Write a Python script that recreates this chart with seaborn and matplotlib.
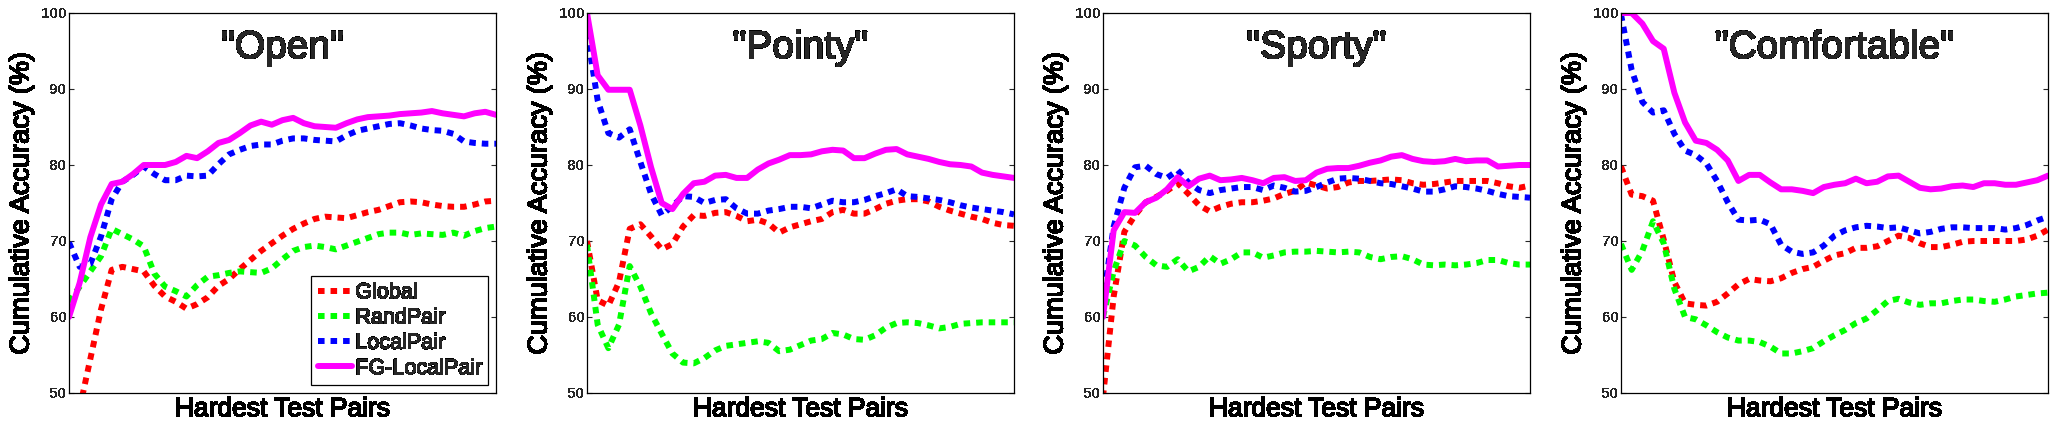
import matplotlib
matplotlib.use("Agg")
import matplotlib.pyplot as plt
import matplotlib.patheffects as pe
import pandas as pd
import seaborn as sns

# 가로축: 가장 어려운 테스트 쌍 (구간 인덱스)
pair_idx = list(range(41))

methods = ["Global", "RandPair", "LocalPair", "FG-LocalPair"]
titles = ['"Open"', '"Pointy"', '"Sporty"', '"Comfortable"']

open_global = [42, 48, 54.5, 61, 66.2, 66.6, 66.3, 66.0, 64.1, 62.7, 62.0, 61.1, 61.7, 62.6, 64.1, 65.0,
               66.3, 67.5, 68.7, 69.7, 70.7, 71.6, 72.3, 72.9, 73.2, 73.1, 73.0, 73.4, 73.8, 74.1, 74.6,
               75.1, 75.2, 75.1, 74.8, 74.6, 74.5, 74.5, 74.8, 75.2, 75.3]
open_rand = [62, 64, 66, 68, 71.6, 70.9, 70.2, 69.3, 65.7, 64.0, 63.4, 62.7, 64.2, 65.3, 65.5, 65.8,
             66.0, 65.9, 65.8, 66.4, 67.6, 68.7, 69.2, 69.4, 69.2, 68.9, 69.4, 69.9, 70.4, 70.9, 71.1,
             71.1, 70.8, 71.0, 70.9, 70.8, 71.1, 70.7, 71.3, 71.7, 71.9]
open_local = [69.8, 66.6, 67.0, 70.6, 75.5, 77.8, 78.7, 79.8, 78.8, 78.0, 78.0, 78.6, 78.5, 78.6, 80.1,
              81.4, 82.0, 82.5, 82.7, 82.7, 83.2, 83.5, 83.5, 83.3, 83.2, 83.1, 83.9, 84.5, 84.8, 85.1,
              85.4, 85.5, 85.2, 84.8, 84.6, 84.5, 84.1, 83.1, 82.9, 82.8, 82.8]
open_fg = [60, 64.5, 70.5, 74.8, 77.5, 77.8, 78.8, 80, 80, 80, 80.4, 81.2, 80.9, 81.8, 82.9, 83.3,
           84.2, 85.2, 85.7, 85.3, 85.9, 86.2, 85.5, 85.1, 85.0, 84.9, 85.5, 86.0, 86.3, 86.4, 86.5,
           86.7, 86.8, 86.9, 87.1, 86.8, 86.6, 86.4, 86.8, 87.0, 86.6]

pointy_global = [70, 62.2, 61.5, 64.6, 71.6, 72.2, 70.6, 68.9, 69.6, 71.9, 73.4, 73.3, 73.7, 73.8, 73.3,
                 72.6, 72.8, 72.3, 71.1, 71.8, 72.2, 72.6, 72.9, 73.8, 74.1, 73.6, 73.6, 74.2, 74.9,
                 75.3, 75.5, 75.5, 75.2, 74.5, 74.0, 73.6, 73.2, 72.9, 72.4, 72.1, 72.0]
pointy_rand = [69.5, 59.0, 55.9, 59.0, 66.7, 64.0, 60.5, 57.8, 55.2, 54.0, 53.9, 54.6, 55.6, 56.2, 56.4,
               56.6, 56.8, 56.6, 55.5, 55.7, 56.3, 56.9, 57.1, 57.9, 57.7, 57.1, 57.0, 57.6, 58.6, 59.2,
               59.3, 59.2, 58.9, 58.5, 58.7, 59.1, 59.2, 59.3, 59.3, 59.3, 59.3]
pointy_local = [97.4, 88.5, 84.2, 83.6, 84.7, 80.4, 76.2, 73.4, 74.6, 75.9, 75.8, 75.0, 75.4, 75.5, 74.3,
                73.6, 73.6, 74.0, 74.2, 74.5, 74.5, 74.3, 74.8, 75.3, 75.1, 75.1, 75.4, 75.9, 76.3, 76.8,
                75.9, 75.8, 75.6, 75.4, 75.1, 74.7, 74.4, 74.2, 74.0, 73.8, 73.5]
pointy_fg = [100, 91.8, 89.9, 89.9, 89.9, 85.2, 79.7, 75.0, 74.2, 76.2, 77.6, 77.8, 78.6, 78.7, 78.3,
             78.3, 79.4, 80.2, 80.7, 81.3, 81.3, 81.4, 81.8, 82.0, 81.9, 80.9, 80.9, 81.5, 82.0, 82.1,
             81.4, 81.1, 80.8, 80.4, 80.1, 80.0, 79.8, 79.0, 78.7, 78.5, 78.3]

sporty_global = [49.5, 62.7, 71.2, 73.4, 75.1, 75.8, 76.6, 77.6, 76.2, 74.7, 73.9, 74.5, 74.9, 75.1, 75.1,
                 75.3, 75.6, 76.2, 76.6, 77.7, 77.3, 76.9, 77.1, 77.7, 77.9, 77.9, 78.0, 78.1, 78.0,
                 77.6, 77.4, 77.5, 77.7, 77.9, 77.9, 77.9, 77.9, 77.6, 77.2, 77.0, 77.3]
sporty_rand = [60, 66, 70.0, 69.4, 67.9, 66.8, 66.6, 67.6, 66.0, 66.6, 68.0, 67.0, 67.6, 68.5, 68.5, 67.8,
               68.1, 68.5, 68.6, 68.6, 68.7, 68.6, 68.5, 68.6, 68.5, 67.9, 67.6, 67.9, 68.0, 67.6, 66.9,
               66.8, 66.9, 66.8, 66.9, 67.1, 67.5, 67.5, 67.1, 66.9, 66.9]
sporty_local = [62, 71.9, 77.0, 79.7, 79.9, 78.8, 78.3, 79.3, 77.7, 76.7, 76.3, 76.7, 76.9, 77.1, 77.1,
                76.7, 77.3, 77.0, 76.5, 76.6, 77.1, 77.7, 78.2, 78.3, 78.2, 77.9, 77.6, 77.5, 77.2, 76.9,
                76.5, 76.5, 76.8, 77.2, 77.1, 76.9, 76.6, 76.2, 75.9, 75.8, 75.7]
sporty_fg = [60, 71.4, 73.8, 73.7, 75.1, 75.7, 76.8, 78.4, 77.2, 78.2, 78.6, 78.0, 78.1, 78.3, 78.0, 77.6,
             78.3, 78.4, 77.9, 78.0, 79.0, 79.5, 79.6, 79.6, 79.9, 80.3, 80.6, 81.1, 81.3, 80.8, 80.5,
             80.4, 80.5, 80.8, 80.5, 80.6, 80.6, 79.8, 79.9, 80.0, 80.0]

comf_global = [79.8, 76.1, 75.9, 75.3, 70.2, 64.6, 61.8, 61.6, 61.5, 62.0, 63.1, 64.3, 65.0, 64.8, 64.7,
               65.1, 65.8, 66.3, 66.6, 67.4, 68.1, 68.4, 69.1, 69.1, 69.3, 70.0, 70.7, 70.4, 69.7, 69.2,
               69.2, 69.5, 69.9, 70.0, 70.0, 70.0, 70.0, 70.0, 70.2, 70.7, 71.5]
comf_rand = [69.6, 66.2, 68.7, 72.6, 69.7, 63.7, 60.0, 59.7, 58.9, 58.0, 57.3, 56.9, 56.9, 56.7, 56.1,
             55.2, 55.2, 55.5, 55.9, 56.8, 57.6, 58.3, 59.2, 59.8, 60.9, 62.1, 62.4, 61.9, 61.6, 61.8,
             61.8, 62.1, 62.3, 62.3, 62.1, 62.0, 62.3, 62.7, 62.9, 63.1, 63.2]
comf_local = [99.8, 92.5, 88.3, 86.9, 87.2, 84.1, 81.9, 81.3, 80.2, 77.9, 75.1, 72.8, 72.7, 72.8, 72.2,
              69.5, 68.6, 68.3, 68.5, 69.4, 70.7, 71.4, 71.8, 72.0, 71.9, 71.7, 71.8, 71.4, 71.0, 71.2,
              71.6, 71.8, 71.8, 71.7, 71.7, 71.7, 71.5, 71.7, 72.1, 72.7, 73.2]
comf_fg = [100, 100, 98.6, 96.3, 95.3, 89.5, 85.6, 83.2, 82.9, 82.0, 80.6, 77.9, 78.7, 78.7, 77.7, 76.8,
           76.8, 76.6, 76.3, 77.1, 77.4, 77.6, 78.2, 77.6, 77.8, 78.5, 78.6, 77.8, 77.0, 76.8, 76.9,
           77.2, 77.3, 77.1, 77.6, 77.6, 77.4, 77.4, 77.7, 78.0, 78.6]

panels = [
    [open_global, open_rand, open_local, open_fg],
    [pointy_global, pointy_rand, pointy_local, pointy_fg],
    [sporty_global, sporty_rand, sporty_local, sporty_fg],
    [comf_global, comf_rand, comf_local, comf_fg],
]

palette = {"Global": "#FF0000", "RandPair": "#00FF00", "LocalPair": "#0000FF", "FG-LocalPair": "#FF00FF"}
dash_map = {"Global": (1.1, 1.0), "RandPair": (1.1, 1.0), "LocalPair": (1.1, 1.0), "FG-LocalPair": ""}

sns.set_theme(style="white")
plt.rcParams["font.family"] = ["Liberation Sans", "DejaVu Sans"]
plt.rcParams["text.antialiased"] = False    # 원본처럼 계단 모양 글자

heavy = [pe.withStroke(linewidth=0.4, foreground="black")]    # 글자를 조금 두껍게

fig = plt.figure(figsize=(20.64, 4.32), dpi=100)
lefts = [69, 587, 1103, 1621]    # 픽셀 기준 왼쪽 위치

for k, (title, series) in enumerate(zip(titles, panels)):
    ax = fig.add_axes([lefts[k] / 2064, 39 / 432, 427 / 2064, 380 / 432])
    df = pd.DataFrame({
        "pair": pair_idx * 4,
        "acc": [v for s in series for v in s],
        "method": [m for m in methods for _ in pair_idx],
    })
    sns.lineplot(data=df, x="pair", y="acc", hue="method", style="method",
                 hue_order=methods, style_order=methods, palette=palette, dashes=dash_map,
                 lw=4.3, ax=ax, legend=False)

    ax.set_xlim(0, 40)
    ax.set_ylim(50, 100)
    ax.set_xticks([])
    ax.set_yticks([50, 60, 70, 80, 90, 100])
    ax.tick_params(axis="y", direction="in", left=True, right=True, length=3.5, width=0.8,
                   pad=1.5, labelsize=11)
    for lab in ax.get_yticklabels():
        lab.set_fontweight("bold")
    for sp in ax.spines.values():
        sp.set_color("black")
        sp.set_linewidth(0.9)
    ax.set_xlabel("Hardest Test Pairs", fontsize=19, labelpad=3, color="black", path_effects=heavy)
    ax.set_ylabel("Cumulative Accuracy (%)", fontsize=19.5, labelpad=5, color="black", path_effects=heavy)
    ax.text(0.5, 0.955, title, transform=ax.transAxes, ha="center", va="top", fontsize=28,
            path_effects=[pe.withStroke(linewidth=0.6, foreground="black")])

    if k == 0:
        leg = ax.legend(ax.get_lines(), methods, loc="lower right", fontsize=15.5, frameon=True,
                        fancybox=False, framealpha=1, edgecolor="black", handlelength=1.6,
                        handletextpad=0.15, labelspacing=0.2, borderpad=0.3, borderaxespad=0.35)
        leg.get_frame().set_linewidth(0.9)
        for t in leg.get_texts():
            t.set_path_effects(heavy)

fig.savefig("out.png", dpi=100)
